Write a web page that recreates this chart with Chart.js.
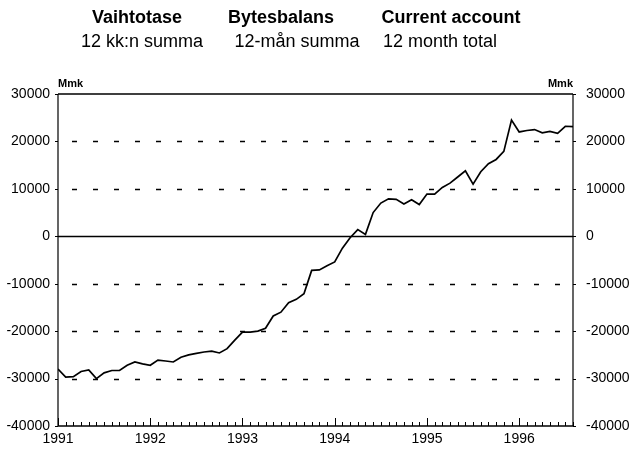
<!DOCTYPE html>
<html>
<head>
<meta charset="utf-8">
<script src="https://cdn.jsdelivr.net/npm/chart.js@4.4.1/dist/chart.umd.min.js"></script>
<style>
  html, body { margin: 0; padding: 0; background: #fff; }
  #wrap { width: 629px; height: 453px; }
</style>
</head>
<body>
<div id="wrap"><canvas id="vaihtotase" width="629" height="453"></canvas></div>
<script>
// otsikot / titles
const titles = ['Vaihtotase', 'Bytesbalans', 'Current account'];
const subTitles = ['12 kk:n summa', '12-mån summa', '12 month total'];
const unitLabel = 'Mmk';

// x-akseli: kuukaudet tammikuusta 1991 alkaen
const yearLabels = ['1991', '1992', '1993', '1994', '1995', '1996'];
const monthCount = 67;

// 12 kk:n summa, Mmk (luettu kuvasta)
const summa = [
  -28000, -29700, -29600, -28500, -28200, -30000, -28800, -28300, -28300, -27200, -26500, -26900,
  -27200, -26100, -26300, -26500, -25500, -25000, -24700, -24400, -24200, -24600, -23700, -21900,
  -20200, -20200, -20000, -19400, -16800, -16000, -14000, -13300, -12100, -7200, -7100, -6200,
  -5400, -2500, -300, 1400, 400, 5000, 7000, 7900, 7800, 6800, 7700, 6700,
  8900, 8900, 10300, 11200, 12500, 13800, 11000, 13600, 15300, 16200, 17900, 24500,
  22000, 22300, 22500, 21800, 22100, 21700, 23200, 23100
];

const yMin = -40000;
const yMax = 30000;
const yStep = 10000;

const points = summa.map((v, i) => ({ x: i, y: v }));

const frame = {
  id: 'frame',
  beforeDatasetsDraw(chart) {
    const { ctx, chartArea: a, scales } = chart;
    const y = scales.y;
    const x = scales.x;
    ctx.save();
    ctx.strokeStyle = '#000';
    // vaakaviivat
    for (let v = yMin + yStep; v < yMax; v += yStep) {
      const py = Math.round(y.getPixelForValue(v)) + 0.5;
      ctx.beginPath();
      if (v === 0) {
        ctx.setLineDash([]);
        ctx.lineWidth = 1.5;
        ctx.moveTo(a.left, py);
      } else {
        ctx.setLineDash([5, 16]);
        ctx.lineWidth = 1.3;
        ctx.moveTo(a.left + 14, py);
      }
      ctx.lineTo(a.right, py);
      ctx.stroke();
    }
    ctx.setLineDash([]);
    // kehys
    ctx.lineWidth = 1.5;
    ctx.beginPath();
    ctx.moveTo(a.left, a.top);
    ctx.lineTo(a.right, a.top);
    ctx.moveTo(a.left, a.bottom);
    ctx.lineTo(a.right, a.bottom);
    ctx.stroke();
    ctx.lineWidth = 1.2;
    ctx.beginPath();
    ctx.moveTo(a.left, a.top);
    ctx.lineTo(a.left, a.bottom);
    ctx.moveTo(a.right, a.top);
    ctx.lineTo(a.right, a.bottom);
    ctx.stroke();
    // y-akselin pikkuviivat
    ctx.lineWidth = 1;
    for (let v = yMin; v <= yMax; v += yStep) {
      const py = Math.round(y.getPixelForValue(v)) + 0.5;
      ctx.beginPath();
      ctx.moveTo(a.left - 3, py);
      ctx.lineTo(a.left, py);
      ctx.moveTo(a.right, py);
      ctx.lineTo(a.right + 3, py);
      ctx.stroke();
    }
    // kuukausiviivat alareunassa
    for (let m = 0; m <= monthCount; m++) {
      const px = Math.round(x.getPixelForValue(m)) + 0.5;
      const len = m % 12 === 0 ? 8 : 4;
      ctx.beginPath();
      ctx.moveTo(px, a.bottom);
      ctx.lineTo(px, a.bottom - len);
      ctx.stroke();
    }
    ctx.restore();
  },
  afterDraw(chart) {
    const { ctx, chartArea: a } = chart;
    ctx.save();
    ctx.fillStyle = '#000';
    ctx.textBaseline = 'middle';
    ctx.textAlign = 'center';
    ctx.font = 'bold 18px "Liberation Sans", Arial, sans-serif';
    ctx.fillText(titles[0], 137, 18);
    ctx.fillText(titles[1], 281, 18);
    ctx.fillText(titles[2], 451, 18);
    ctx.font = '18px "Liberation Sans", Arial, sans-serif';
    ctx.fillText(subTitles[0], 142, 42);
    ctx.fillText(subTitles[1], 297, 42);
    ctx.fillText(subTitles[2], 440, 42);
    ctx.font = 'bold 11px "Liberation Sans", Arial, sans-serif';
    ctx.textAlign = 'left';
    ctx.fillText(unitLabel, a.left, 84);
    ctx.textAlign = 'right';
    ctx.fillText(unitLabel, a.right, 84);
    ctx.restore();
  }
};

const tickFont = { family: '"Liberation Sans", Arial, sans-serif', size: 14 };

new Chart(document.getElementById('vaihtotase'), {
  type: 'line',
  data: {
    datasets: [{
      label: titles[2],
      data: points,
      borderColor: '#000',
      borderWidth: 1.7,
      pointRadius: 0,
      tension: 0,
      fill: false
    }]
  },
  options: {
    responsive: false,
    devicePixelRatio: 1,
    animation: false,
    layout: { padding: { top: 94, left: 0, right: 0, bottom: 0 } },
    plugins: {
      legend: { display: false },
      tooltip: { enabled: false },
      title: { display: false }
    },
    scales: {
      x: {
        type: 'linear',
        min: 0,
        max: monthCount,
        grid: { display: false, drawTicks: false },
        border: { display: false },
        ticks: {
          stepSize: 12,
          includeBounds: false,
          maxRotation: 0,
          autoSkip: false,
          color: '#000',
          font: tickFont,
          padding: 5,
          callback: v => yearLabels[v / 12] || ''
        },
        afterFit: s => { s.height = 27; }
      },
      y: {
        position: 'left',
        min: yMin,
        max: yMax,
        grid: { display: false, drawTicks: false },
        border: { display: false },
        ticks: {
          stepSize: yStep,
          color: '#000',
          font: tickFont,
          padding: 8,
          callback: v => String(v)
        },
        afterFit: s => { s.width = 58; }
      },
      y2: {
        position: 'right',
        min: yMin,
        max: yMax,
        grid: { display: false, drawTicks: false },
        border: { display: false },
        ticks: {
          stepSize: yStep,
          color: '#000',
          font: tickFont,
          padding: 13,
          callback: v => String(v)
        },
        afterFit: s => { s.width = 56; }
      }
    }
  },
  plugins: [frame]
});
</script>
</body>
</html>
